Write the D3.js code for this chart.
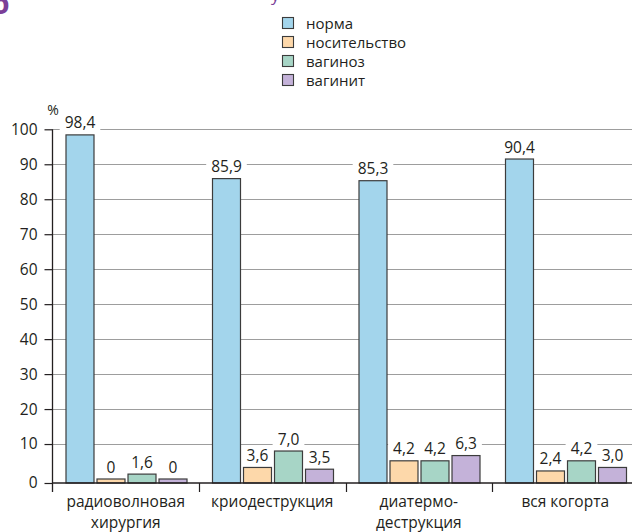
<!DOCTYPE html>
<html>
<head>
<meta charset="utf-8">
<script src="https://cdn.jsdelivr.net/npm/d3@7"></script>
<style>
  html, body { margin: 0; padding: 0; background: #fff; }
  svg { display: block; }
  text { font-family: "Open Sans", "DejaVu Sans", sans-serif; fill: #231f20; }
</style>
</head>
<body>
<div id="chart"></div>
<script>
// ---- data ----
const categories = ["радиоволновая|хирургия", "криодеструкция", "диатермо-|деструкция", "вся когорта"];
const series = ["норма", "носительство", "вагиноз", "вагинит"];
const seriesColors = ["#a3d5ec", "#fdd8aa", "#a7d5c6", "#c4b2d9"];
// bar heights as drawn in the picture (%)
const norma = [98.4, 85.9, 85.3, 91.5];
const nositelstvo = [0, 3.3, 5.2, 2.3];
const vaginoz = [1.4, 8.0, 5.2, 5.2];
const vaginit = [0, 2.8, 6.7, 3.3];
// value labels printed above bars
const normaLabels = ["98,4", "85,9", "85,3", "90,4"];
const nositelstvoLabels = ["0", "3,6", "4,2", "2,4"];
const vaginozLabels = ["1,6", "7,0", "4,2", "4,2"];
const vaginitLabels = ["0", "3,5", "6,3", "3,0"];
const yTicks = [0, 10, 20, 30, 40, 50, 60, 70, 80, 90, 100];

const seriesValues = [norma, nositelstvo, vaginoz, vaginit];
const seriesLabels = [normaLabels, nositelstvoLabels, vaginozLabels, vaginitLabels];

const W = 632, H = 532;
const FS = 15.5;
const svg = d3.select("#chart").append("svg").attr("width", W).attr("height", H);

const x0 = d3.scaleBand().domain(categories).range([52.5, 638.5]);
const x1 = d3.scaleBand().domain(series).range([13.5, 134.5]).paddingInner(0.097);
const y = d3.scaleLinear().domain([0, 100]).range([479, 129.3]);
const base = 483;
// axis scale: zero sits on the drawn baseline
const yAx = d3.scaleLinear().domain([0, 10, 100]).range([base, y(10), y(100)]);

const cells = [];
categories.forEach((c, ci) => {
  series.forEach((s, si) => {
    cells.push({ c, s, si, v: seriesValues[si][ci], label: seriesLabels[si][ci] });
  });
});

// gridlines
svg.append("g").selectAll("line").data(yTicks.filter(t => t > 0)).join("line")
  .attr("x1", 52.5).attr("x2", W)
  .attr("y1", d => Math.round(yAx(d)) + 0.5).attr("y2", d => Math.round(yAx(d)) + 0.5)
  .attr("stroke", "#9d9d9d").attr("stroke-width", 1);

// value labels (knock-out boxes first)
const lblG = svg.append("g");
const lbl = lblG.selectAll("g").data(cells).join("g")
  .attr("transform", d => `translate(${x0(d.c) + x1(d.s) + x1.bandwidth() / 2},${y(d.v) - 6.5})`);
lbl.append("rect").attr("fill", "#fff");
const lblTexts = lbl.append("text").attr("text-anchor", "middle").attr("font-size", FS).text(d => d.label);
lblTexts.each(function (d) {
  const w = this.getComputedTextLength();
  d3.select(this.parentNode).select("rect")
    .attr("x", -w / 2 - 5).attr("width", w + 10).attr("y", -14).attr("height", 18);
});
lblTexts.remove();

// bars
svg.append("g").selectAll("rect").data(cells).join("rect")
  .attr("x", d => x0(d.c) + x1(d.s))
  .attr("width", x1.bandwidth())
  .attr("y", d => y(d.v))
  .attr("height", d => base - y(d.v))
  .attr("fill", d => seriesColors[d.si])
  .attr("stroke", "#3c3c3c").attr("stroke-width", 1.2);

// value label texts
svg.append("g").selectAll("text").data(cells).join("text")
  .attr("x", d => x0(d.c) + x1(d.s) + x1.bandwidth() / 2)
  .attr("y", d => y(d.v) - 6.5)
  .attr("text-anchor", "middle").attr("font-size", FS)
  .text(d => d.label);

// y axis
const yAxisG = svg.append("g").attr("transform", "translate(52.5,0)")
  .call(d3.axisLeft(yAx).tickValues(yTicks).tickSize(8).tickSizeOuter(0).tickPadding(7).tickFormat(d => d));
yAxisG.select(".domain").remove();
yAxisG.selectAll(".tick line").attr("stroke", "#231f20").attr("stroke-width", 1.2);
yAxisG.selectAll(".tick text").attr("font-size", FS).attr("font-family", "Open Sans").attr("fill", "#231f20");
svg.append("line").attr("x1", 52.5).attr("x2", 52.5).attr("y1", y(100)).attr("y2", 492)
  .attr("stroke", "#231f20").attr("stroke-width", 1.3);

// x baseline
svg.append("line").attr("x1", 52.5).attr("x2", W).attr("y1", base).attr("y2", base)
  .attr("stroke", "#231f20").attr("stroke-width", 1.3);

// category separators
svg.append("g").selectAll("line").data(categories.slice(1)).join("line")
  .attr("x1", d => Math.round(x0(d)) + 0.5).attr("x2", d => Math.round(x0(d)) + 0.5)
  .attr("y1", base).attr("y2", 492)
  .attr("stroke", "#231f20").attr("stroke-width", 1.2);

// category labels
const cat = svg.append("g").selectAll("text").data(categories).join("text")
  .attr("text-anchor", "middle").attr("font-size", FS)
  .attr("transform", d => `translate(${x0(d) + x0.bandwidth() / 2},0)`);
cat.selectAll("tspan").data(d => d.split("|")).join("tspan")
  .attr("x", 0).attr("y", (d, i) => 507 + i * 21).text(d => d);

// percent sign
svg.append("text").attr("x", 53).attr("y", 115).attr("text-anchor", "middle")
  .attr("font-size", 14).text("%");

// legend
const leg = svg.append("g").selectAll("g").data(series).join("g")
  .attr("transform", (d, i) => `translate(282,${23 + i * 19})`);
leg.append("rect").attr("x", 0.5).attr("y", -5.5).attr("width", 11).attr("height", 11)
  .attr("fill", (d, i) => seriesColors[i]).attr("stroke", "#3c3c3c").attr("stroke-width", 1.1);
leg.append("text").attr("x", 24).attr("y", 5.5).attr("font-size", 15).text(d => d);

// cropped panel letter at top-left (as in the source image)
svg.append("text").attr("x", -9).attr("y", 14).attr("font-size", 30).attr("font-weight", "bold")
  .style("fill", "#7b3f98").text("б");
svg.append("text").attr("x", 271).attr("y", 1).attr("font-size", 17)
  .style("fill", "#7b3f98").text("у");
</script>
</body>
</html>
